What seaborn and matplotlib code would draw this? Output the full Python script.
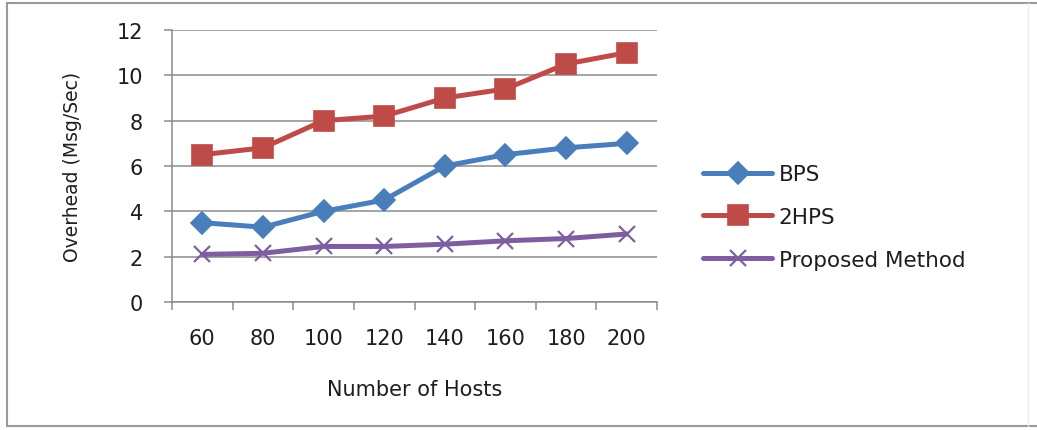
import matplotlib
matplotlib.use("Agg")
import matplotlib.pyplot as plt
from matplotlib.lines import Line2D
import seaborn as sns
import pandas as pd

hosts = ["60", "80", "100", "120", "140", "160", "180", "200"]
bps = [3.5, 3.3, 4.0, 4.5, 6.0, 6.5, 6.8, 7.0]
two_hps = [6.5, 6.8, 8.0, 8.2, 9.0, 9.4, 10.5, 11.0]
proposed = [2.1, 2.15, 2.45, 2.45, 2.55, 2.7, 2.8, 3.0]
series_names = ["BPS", "2HPS", "Proposed Method"]
y_ticks = [0, 2, 4, 6, 8, 10, 12]

frames = []
for name, vals in zip(series_names, [bps, two_hps, proposed]):
    frames.append(pd.DataFrame({"Hosts": hosts, "Overhead": vals, "Series": name}))
df = pd.concat(frames, ignore_index=True)

sns.set_theme(style="white")
plt.rcParams["font.family"] = ["DejaVu Sans"]

colors = {"BPS": "#4A7EBB", "2HPS": "#BE4B48", "Proposed Method": "#7D5FA0"}
markers = {"BPS": "D", "2HPS": "s", "Proposed Method": "x"}
msizes = {"BPS": 11.5, "2HPS": 14, "Proposed Method": 12}
text_color = "#1e1e1e"

fig = plt.figure(figsize=(10.37, 4.31), dpi=100)
ax = fig.add_axes([172 / 1037, 128 / 431, 485 / 1037, 272 / 431])

for name in series_names:
    sub = df[df["Series"] == name]
    sns.lineplot(data=sub, x="Hosts", y="Overhead", ax=ax, color=colors[name],
                 marker=markers[name], markersize=msizes[name],
                 markeredgewidth=1.2 if name != "Proposed Method" else 1.6,
                 markeredgecolor=colors[name], linewidth=3.6, label=name,
                 sort=False)

ax.set_xlim(-0.5, len(hosts) - 0.5)
ax.set_ylim(0, 12)
ax.set_yticks(y_ticks)
ax.set_yticklabels([str(t) for t in y_ticks])
ax.yaxis.grid(True, color="#8c8c8c", linewidth=1.1)
ax.xaxis.grid(False)

# category labels at centres, tick marks between categories
ax.set_xticks([i - 0.5 for i in range(len(hosts) + 1)])
ax.set_xticklabels([""] * (len(hosts) + 1))
ax.set_xticks(range(len(hosts)), minor=True)
ax.set_xticklabels(hosts, minor=True)
ax.tick_params(axis="x", which="major", length=6, width=1.1, color="#8c8c8c", direction="out", bottom=True)
ax.tick_params(axis="x", which="minor", length=0, pad=19, labelsize=15, labelcolor=text_color)
ax.tick_params(axis="y", which="major", length=6, width=1.1, color="#8c8c8c", direction="out",
               left=True, pad=15, labelsize=15, labelcolor=text_color)

for side in ["top", "right"]:
    ax.spines[side].set_visible(False)
for side in ["left", "bottom"]:
    ax.spines[side].set_color("#8c8c8c")
    ax.spines[side].set_linewidth(1.1)

ax.set_xlabel("Number of Hosts", fontsize=15, color=text_color, labelpad=22)
ax.set_ylabel("Overhead (Msg/Sec)", fontsize=13.5, color=text_color, labelpad=25)

ax.legend_.remove()
handles, labels = ax.get_legend_handles_labels()
fig.legend(handles, labels, loc="center left", bbox_to_anchor=(684 / 1037, 1 - 218 / 431),
           frameon=False, fontsize=15.5, handlelength=3.2, labelspacing=1.05,
           handletextpad=0.3, labelcolor=text_color)

# outer chart frame: darker top, left and bottom edges, faint right edge
frame_kw = dict(transform=fig.transFigure, color="#9a9a9a", linewidth=1.5)
x0, x1, y0, y1 = 7 / 1037, 1028 / 1037, 4 / 431, 427 / 431
fig.add_artist(Line2D([x0, 1.0], [1 - y0, 1 - y0], **frame_kw))
fig.add_artist(Line2D([x0, 1.0], [1 - y1, 1 - y1], **frame_kw))
fig.add_artist(Line2D([x0, x0], [1 - y0, 1 - y1], **frame_kw))
fig.add_artist(Line2D([x1, x1], [1 - y0, 1 - y1], transform=fig.transFigure,
                      color="#ececec", linewidth=1.0))

fig.savefig("out.png", dpi=100, facecolor="white")
